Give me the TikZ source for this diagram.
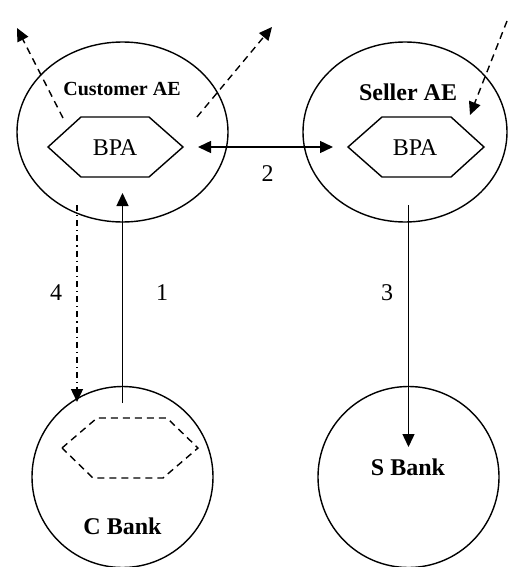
\documentclass[tikz,border=0pt]{standalone}
\usepackage{fontspec}
\setmainfont{Liberation Serif}
\usetikzlibrary{shapes.geometric,arrows.meta}
\begin{document}
\begin{tikzpicture}[x=0.5pt,y=-0.5pt,
  line width=0.7pt,
  oval/.style={draw,ellipse,inner sep=0pt},
  hexa/.style={draw,line join=miter},
  tip/.style={-{Triangle[length=6.5pt,width=6pt]}},
  dsh/.style={dash pattern=on 3.5pt off 2.5pt},
  dshdot/.style={dash pattern=on 3pt off 2pt on 0.6pt off 2pt},
  lbl/.style={font=\fontsize{12pt}{14pt}\selectfont,inner sep=0pt},
  blbl/.style={font=\fontsize{12pt}{14pt}\selectfont\bfseries,inner sep=0pt}]
\useasboundingbox (0,0) rectangle (508,567);
% ovals
\node[oval,minimum width=105.5pt,minimum height=90pt] (cae) at (122.5,132) {};
\node[oval,minimum width=102pt,minimum height=90pt] (sae) at (405,132) {};
\node[oval,minimum width=90.5pt,minimum height=90.5pt] (cbank) at (122.5,477) {};
\node[oval,minimum width=90.5pt,minimum height=90.5pt] (sbank) at (408.5,477) {};
% hexagons
\draw[hexa] (48,147) -- (81,117) -- (149,117) -- (183,147) -- (149,177) -- (81,177) -- cycle;
\draw[hexa] (348,147) -- (382,117) -- (451,117) -- (484,147) -- (451,177) -- (382,177) -- cycle;
\draw[hexa,dsh] (62,448) -- (97,418) -- (167,418) -- (198,448) -- (163,478) -- (93,478) -- cycle;
% texts
\node[lbl] (cbpa) at (115,148) {BPA};
\node[lbl] (sbpa) at (415,148) {BPA};
\node[font=\fontsize{10pt}{12pt}\selectfont\bfseries,inner sep=0pt] (caet) at (122,89) {Customer AE};
\node[blbl] (saet) at (408,92) {Seller AE};
\node[blbl] (cbt) at (122.5,526) {C Bank};
\node[blbl] (sbt) at (408,467.5) {S Bank};
\node[lbl] (n2) at (267.5,174) {2};
\node[lbl] (n4) at (56,292.5) {4};
\node[lbl] (n1) at (162,292.5) {1};
\node[lbl] (n3) at (387,292.5) {3};
% connector end points
\coordinate (tlS) at (63,118);
\coordinate (tlE) at (17,28);
\coordinate (trS) at (197,117);
\coordinate (trE) at (272,27);
\coordinate (sdS) at (507,21);
\coordinate (sdE) at (470,115);
\coordinate (aL) at (198,147);
\coordinate (aR) at (333,147);
\coordinate (a1S) at (122.5,403);
\coordinate (a1E) at (122.5,193);
\coordinate (a4S) at (77,205);
\coordinate (a4E) at (77,402);
\coordinate (a3S) at (408.5,205);
\coordinate (a3E) at (408.5,447);
% connectors
\draw[tip,dsh] (tlS) -- (tlE);
\draw[tip,dsh] (trS) -- (trE);
\draw[tip,dsh] (sdS) -- (sdE);
\draw[{Triangle[length=6.5pt,width=6pt]}-{Triangle[length=6.5pt,width=6pt]}] (aL) -- (aR);
\draw[tip] (a1S) -- (a1E);
\draw[tip,dshdot] (a4S) -- (a4E);
\draw[tip] (a3S) -- (a3E);
\end{tikzpicture}
\end{document}
